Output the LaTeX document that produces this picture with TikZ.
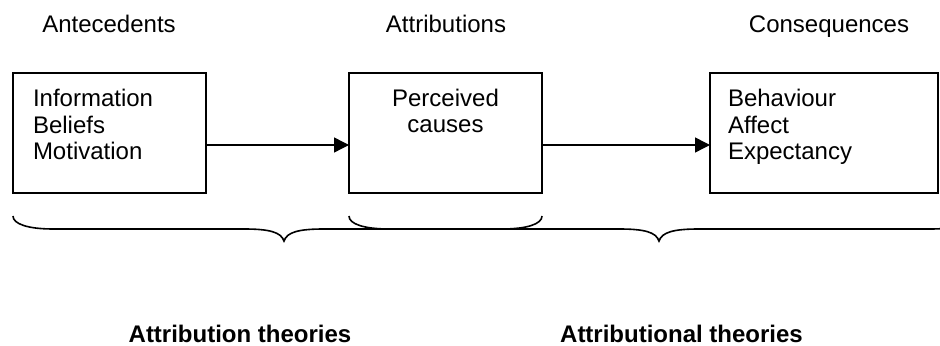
\documentclass[tikz,border=0pt]{standalone}
\usepackage{fontspec}
\setmainfont{Liberation Sans}
\usetikzlibrary{arrows.meta}
\newcommand\attbrace[4]{% left x, tip x, right x, name
  \draw[bracestyle] (#1,216) .. controls (#1,224) and (#1+15,229) .. (#1+40,229)
    -- (#2-40,229) .. controls (#2-15,229) and (#2-3,232) .. (#2,241) coordinate (#4)
    .. controls (#2+3,232) and (#2+15,229) .. (#2+40,229)
    -- (#3-40,229) .. controls (#3-15,229) and (#3,224) .. (#3,216);}
\begin{document}
\begin{tikzpicture}[x=0.5pt,y=-0.5pt,
  every node/.style={font=\fontsize{12pt}{13.25pt}\selectfont, inner sep=0pt, outer sep=0pt},
  box/.style={draw, line width=0.7pt, minimum height=60pt},
  arr/.style={line width=0.7pt, -{Triangle[length=7.5pt,width=7.5pt]}},
  bracestyle/.style={line width=0.8pt},
  head/.style={anchor=base},
  body/.style={align=left, anchor=base west},
  theory/.style={anchor=base, font=\fontsize{12pt}{14pt}\selectfont\bfseries}]
\path[use as bounding box, clip] (0,0) rectangle (940,346);
% boxes
\node[box, minimum width=96.5pt] (b1) at (109.5,133) {};
\node[box, minimum width=96.5pt] (b2) at (445.5,133) {};
\node[box, minimum width=114pt] (b3) at (824,133) {};
% headings
\node[head] (h1) at (109,33) {Antecedents};
\node[head] (h2) at (446,33) {Attributions};
\node[head] (h3) at (829,33) {Consequences};
% box texts (anchored at the baseline of the last line)
\node[body] (t1) at (33,160) {Information\\Beliefs\\Motivation};
\node[align=center, anchor=base] (t2) at (445.5,133) {Perceived\\causes};
\node[body] (t3) at (728,160) {Behaviour\\Affect\\Expectancy};
% arrows
\draw[arr] ([yshift=-6pt]b1.east) -- ([yshift=-6pt]b2.west);
\draw[arr] ([yshift=-6pt]b2.east) -- ([yshift=-6pt]b3.west);
% braces
\attbrace{13}{284}{542}{tipA}
\attbrace{349}{659}{971}{tipB}
% theory labels
\node[theory] (l1) at (240,343) {Attribution theories};
\node[theory] (l2) at (681.5,343) {Attributional theories};
\end{tikzpicture}
\end{document}
